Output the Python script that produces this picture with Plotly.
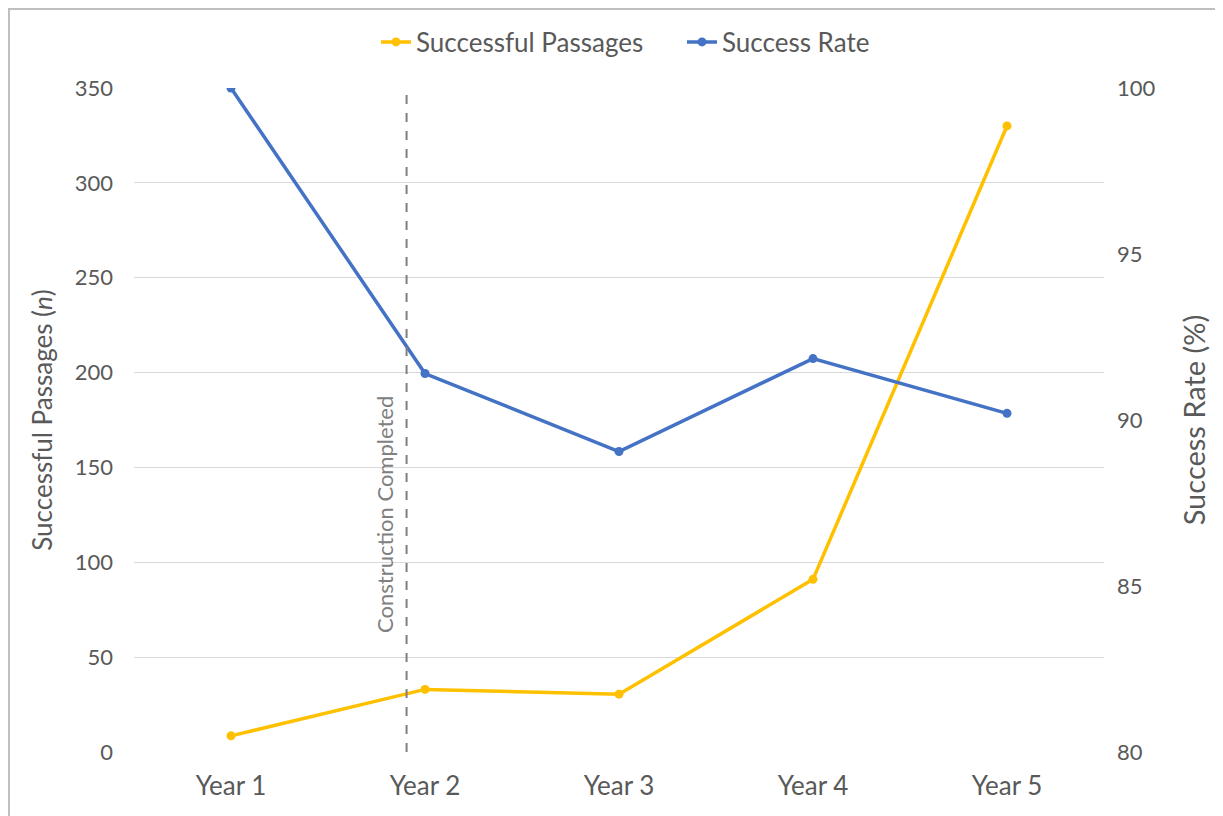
import plotly.graph_objects as go

categories = ["Year 1", "Year 2", "Year 3", "Year 4", "Year 5"]
passages = [8.5, 33, 30.5, 91, 330]
success_rate = [100, 91.4, 89.05, 91.85, 90.2]
event_label = "Construction Completed"
event_x = 0.905

FONT = "Lato"
TXT = "#595959"
x_idx = list(range(len(categories)))

# page has an 8px body margin, so the figure is 8px smaller than the window
W, H = 1215, 808
L, T = 126, 80
PW, PH = 970, 664
R, B = W - L - PW, H - T - PH

fig = go.Figure()
fig.add_trace(go.Scatter(
    x=x_idx, y=passages, name="Successful Passages", mode="lines+markers",
    line=dict(color="#FFC000", width=3.5), marker=dict(size=9, color="#FFC000"),
    yaxis="y"))
fig.add_trace(go.Scatter(
    x=x_idx, y=success_rate, name="Success Rate", mode="lines+markers",
    line=dict(color="#4472C4", width=3.5), marker=dict(size=9, color="#4472C4"),
    yaxis="y2"))

fig.add_shape(type="line", xref="x", yref="y", x0=event_x, x1=event_x, y0=0, y1=350,
              line=dict(color="#7F7F7F", width=2, dash="dash"))
fig.add_annotation(x=event_x, y=125, xref="x", yref="y", text=event_label,
                   textangle=-90, showarrow=False, xanchor="right", xshift=-6,
                   font=dict(family=FONT, size=22, color="#808080"))

# outer chart border
fig.add_shape(type="rect", xref="paper", yref="paper",
              x0=(1 - L) / PW, x1=(W + 20 - L) / PW,
              y0=(PH + T - (H + 20)) / PH, y1=(PH + T - 1) / PH,
              line=dict(color="#BFBFBF", width=2), fillcolor="rgba(0,0,0,0)", layer="below")

fig.update_layout(
    width=W, height=H,
    margin=dict(l=L, r=R, t=T, b=B, autoexpand=False),
    paper_bgcolor="white", plot_bgcolor="white",
    font=dict(family=FONT, size=22, color=TXT),
    showlegend=True,
    legend=dict(orientation="h", x=(368 - L) / PW, xanchor="left",
                y=(PH + T - 34) / PH, yanchor="middle",
                font=dict(family=FONT, size=26, color=TXT),
                entrywidth=261, entrywidthmode="pixels",
                bgcolor="rgba(0,0,0,0)"),
    xaxis=dict(tickmode="array", tickvals=x_idx, ticktext=categories,
               range=[-0.5, 4.5], showgrid=False, zeroline=False, showline=False,
               ticks="", ticklabelstandoff=16, tickfont=dict(size=26, color=TXT)),
    yaxis=dict(range=[0, 350], dtick=50, showgrid=True, gridcolor="#D9D9D9", gridwidth=1,
               zeroline=False, showline=False, ticks="", ticklabelstandoff=20,
               tickfont=dict(size=22, color=TXT),
               title=dict(text="Successful Passages (<i>n</i>)", font=dict(size=26, color=TXT),
                          standoff=14)),
    yaxis2=dict(range=[80, 100], dtick=5, overlaying="y", side="right", showgrid=False,
                zeroline=False, showline=False, ticks="", ticklabelstandoff=12,
                tickfont=dict(size=22, color=TXT),
                title=dict(text="Success Rate (%)", font=dict(size=29, color=TXT),
                           standoff=30)),
)

fig.write_html("out.html")
